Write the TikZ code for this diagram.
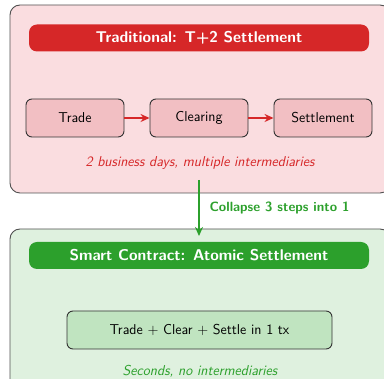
\documentclass[tikz,border=0pt]{standalone}
\usetikzlibrary{arrows.meta}
\definecolor{tradred}{HTML}{D62728}
\definecolor{tradpanel}{HTML}{FADDE0}
\definecolor{tradstep}{HTML}{F2BFC3}
\definecolor{smartgreen}{HTML}{2CA02C}
\definecolor{smartpanel}{HTML}{DFF1DF}
\definecolor{smartstep}{HTML}{C0E4C0}
\definecolor{edgegray}{HTML}{505050}
\tikzset{
  panel/.style={draw=edgegray, line width=0.9pt, rounded corners=10pt},
  titlebar/.style={rounded corners=8pt, text=white, font=\sffamily\bfseries\fontsize{15.6}{18}\selectfont,
    minimum width=340pt, minimum height=27pt, inner sep=0pt},
  stepbox/.style={draw=black!80, line width=0.9pt, rounded corners=6pt, fill=tradstep,
    minimum width=98pt, minimum height=38pt, inner sep=0pt, font=\sffamily\fontsize{14.3}{16}\selectfont},
  flow/.style={-{Stealth[length=9pt,width=8pt]}, line width=1.6pt},
  note/.style={font=\sffamily\itshape\fontsize{14.3}{16}\selectfont}
}
\begin{document}
\begin{tikzpicture}[x=1pt, y=-1pt]
\useasboundingbox (0,0) rectangle (384,379);
\begin{scope}
\clip (0,0) rectangle (384,379);
% panels
\draw[panel, fill=tradpanel] (10,5) rectangle (390,193);
\draw[panel, fill=smartpanel] (10,229) rectangle (390,390);
\end{scope}

% traditional pipeline
\node[titlebar, fill=tradred] (ttitle) at (199,38) {Traditional: T+2 Settlement};
\node[stepbox] (trade) at (75,118) {Trade};
\node[stepbox] (clear) at (199,118) {Clearing};
\node[stepbox] (settle) at (323,118) {Settlement};
\draw[flow, tradred] (trade) -- (clear);
\draw[flow, tradred] (clear) -- (settle);
\node[note, text=tradred] (tnote) at (200,163) {2 business days, multiple intermediaries};

% collapse arrow
\coordinate (astart) at (199,180);
\coordinate (aend) at (199,236);
\draw[flow, smartgreen] (astart) -- (aend);
\node[anchor=west, text=smartgreen, font=\sffamily\bfseries\fontsize{13.4}{15}\selectfont] (alabel) at (206,208) {Collapse 3 steps into 1};

% smart contract pipeline
\node[titlebar, fill=smartgreen] (stitle) at (199,255.5) {Smart Contract: Atomic Settlement};
\node[stepbox, fill=smartstep, minimum width=265pt] (atomic) at (199.5,330) {Trade + Clear + Settle in 1 tx};
\node[note, text=smartgreen] (snote) at (200,371.5) {Seconds, no intermediaries};
\end{tikzpicture}
\end{document}
